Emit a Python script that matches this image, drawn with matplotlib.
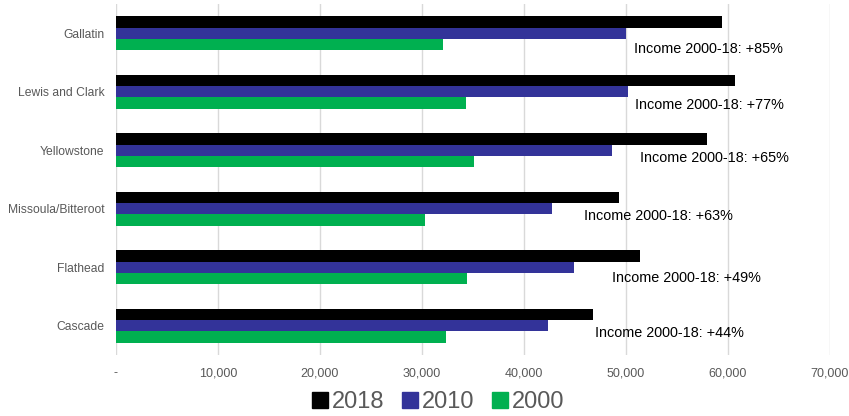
import matplotlib
matplotlib.use("Agg")
import matplotlib.pyplot as plt
import numpy as np
from matplotlib.ticker import FuncFormatter

plt.rcParams['font.family'] = ['Liberation Sans', 'DejaVu Sans']

categories = ["Gallatin", "Lewis and Clark", "Yellowstone", "Missoula/Bitteroot", "Flathead", "Cascade"]
series_names = ["2018", "2010", "2000"]
income_2018 = [59400, 60700, 57950, 49300, 51400, 46800]
income_2010 = [50050, 50200, 48600, 42800, 44950, 42350]
income_2000 = [32100, 34350, 35100, 30350, 34400, 32400]
growth_labels = ["Income 2000-18: +85%", "Income 2000-18: +77%", "Income 2000-18: +65%",
                 "Income 2000-18: +63%", "Income 2000-18: +49%", "Income 2000-18: +44%"]
x_ticks = [0, 10000, 20000, 30000, 40000, 50000, 60000, 70000]

colors = ["#000000", "#333399", "#00B050"]
label_pos_x = [50800, 50900, 51400, 45900, 48600, 47000]
label_off_y = [0.27, 0.23, 0.13, 0.12, 0.19, 0.12]

fig = plt.figure(figsize=(8.49, 4.16), dpi=100)
ax = fig.add_axes([0.1363, 0.1466, 0.8413, 0.8438])

y = np.arange(len(categories))
h = 0.193
for k, (vals, c, name) in enumerate(zip([income_2018, income_2010, income_2000], colors, series_names)):
    ax.barh(y + (k - 1) * h, vals, height=h, color=c, label=name, zorder=3)

for i, txt in enumerate(growth_labels):
    ax.text(label_pos_x[i], y[i] + label_off_y[i], txt, fontsize=10.4, color="#000000",
            va="center", ha="left", zorder=4)

ax.set_xlim(0, 70000)
ax.set_ylim(len(categories) - 0.5, -0.5)
ax.set_yticks(y)
ax.set_yticklabels(categories, fontsize=8.7, color="#595959")
ax.set_xticks(x_ticks)
ax.xaxis.set_major_formatter(FuncFormatter(lambda v, p: "-" if v == 0 else f"{int(v):,}"))
for lab in ax.get_xticklabels():
    lab.set_fontsize(9)
    lab.set_color("#595959")
ax.tick_params(axis="both", length=0)
ax.tick_params(axis="y", pad=8)
ax.tick_params(axis="x", pad=9)
ax.grid(axis="x", color="#D9D9D9", linewidth=1, zorder=0)
for s in ax.spines.values():
    s.set_visible(False)

handles = [plt.Line2D([], [], marker="s", linestyle="none", markersize=11, color=c) for c in colors]
leg = fig.legend(handles, series_names, loc="center", bbox_to_anchor=(0.514, 0.034), ncol=3,
                 frameon=False, fontsize=17, handletextpad=0.0, columnspacing=0.6,
                 handlelength=1.0)
for t in leg.get_texts():
    t.set_color("#595959")

fig.savefig("out.png", dpi=100)
